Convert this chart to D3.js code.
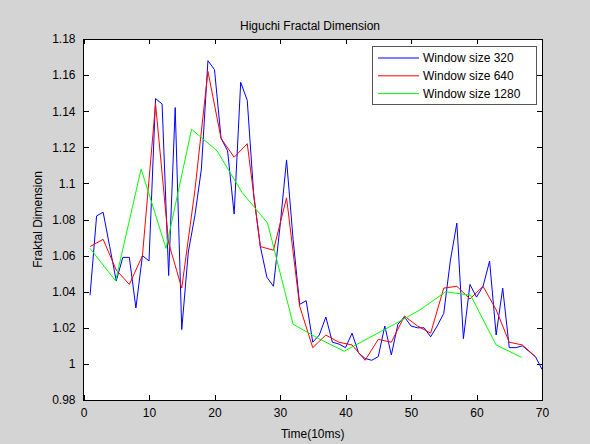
<!DOCTYPE html>
<html>
<head>
<meta charset="utf-8">
<script src="https://cdn.jsdelivr.net/npm/d3@7"></script>
<style>
  html, body { margin: 0; padding: 0; background: #d4d4d4; }
  svg { display: block; font-family: "Liberation Sans", Arial, sans-serif; }
</style>
</head>
<body>
<svg id="chart" width="590" height="444"></svg>
<script>
// series values
const blueX = d3.range(1, 71);
const blueY = [1.038, 1.082, 1.084, 1.065, 1.046, 1.059, 1.059, 1.031, 1.060, 1.057,
  1.147, 1.144, 1.049, 1.142, 1.019, 1.062, 1.082, 1.108, 1.168, 1.163,
  1.125, 1.118, 1.083, 1.156, 1.146, 1.093, 1.065, 1.048, 1.043, 1.076,
  1.113, 1.069, 1.033, 1.035, 1.012, 1.016, 1.026, 1.012, 1.011, 1.009,
  1.017, 1.006, 1.003, 1.002, 1.004, 1.021, 1.005, 1.022, 1.026, 1.021,
  1.020, 1.020, 1.015, 1.021, 1.028, 1.057, 1.078, 1.014, 1.044, 1.037,
  1.043, 1.057, 1.016, 1.042, 1.009, 1.009, 1.010, 1.007, 1.004, 0.997];

const redX = [1, 3, 5, 7, 9, 11, 13, 15, 17, 19, 21, 23, 25, 27, 29, 31, 33, 35,
  37, 39, 41, 43, 45, 47, 49, 51, 53, 55, 57, 59, 61, 63, 65, 67, 69];
const redY = [1.065, 1.069, 1.052, 1.044, 1.060, 1.144, 1.067, 1.042, 1.096, 1.162,
  1.125, 1.1145, 1.122, 1.065, 1.063, 1.092, 1.032, 1.009, 1.016, 1.012,
  1.0105, 1.002, 1.0136, 1.012, 1.0265, 1.021, 1.017, 1.042, 1.043, 1.036,
  1.043, 1.030, 1.012, 1.0105, 1.004];

const greenX = [1, 4.9, 8.8, 12.6, 16.5, 20.4, 24.2, 28.1, 32, 35.9, 39.8, 43.6,
  47.5, 51.4, 55.3, 59.1, 63, 66.9];
const greenY = [1.064, 1.046, 1.108, 1.064, 1.130, 1.118, 1.095, 1.078, 1.022, 1.014,
  1.007, 1.0145, 1.022, 1.030, 1.040, 1.038, 1.0105, 1.0036];

const seriesNames = ['Window size 320', 'Window size 640', 'Window size 1280'];
const seriesColors = ['#0000ff', '#ff0000', '#00ff00'];

const xTicks = [0, 10, 20, 30, 40, 50, 60, 70];
const yTicks = [0.98, 1, 1.02, 1.04, 1.06, 1.08, 1.1, 1.12, 1.14, 1.16, 1.18];

const svg = d3.select('#chart');
const axL = 83.5, axR = 542, axT = 39, axB = 400;

const x = d3.scaleLinear().domain([0, 70]).range([axL, axR]);
const y = d3.scaleLinear().domain([0.98, 1.18]).range([axB, axT]);

// axes background
svg.append('rect')
  .attr('x', axL).attr('y', axT)
  .attr('width', axR - axL).attr('height', axB - axT)
  .attr('fill', '#fff');

const fmt = d => String(+d.toFixed(2));

// ticks pointing inward, on all four sides
const tickLen = 5;
svg.append('g').attr('transform', `translate(0,${axB})`)
  .call(d3.axisBottom(x).tickValues(xTicks).tickSize(-tickLen).tickPadding(8).tickFormat(fmt));
svg.append('g').attr('transform', `translate(0,${axT})`)
  .call(d3.axisTop(x).tickValues(xTicks).tickSize(-tickLen).tickFormat(''));
svg.append('g').attr('transform', `translate(${axL},0)`)
  .call(d3.axisLeft(y).tickValues(yTicks).tickSize(-tickLen).tickPadding(8).tickFormat(fmt));
svg.append('g').attr('transform', `translate(${axR},0)`)
  .call(d3.axisRight(y).tickValues(yTicks).tickSize(-tickLen).tickFormat(''));

svg.selectAll('.domain').remove();
svg.selectAll('.tick line').attr('stroke', '#000').attr('shape-rendering', 'crispEdges');
svg.selectAll('.tick text').attr('fill', '#000').style('font-size', '12px')
  .style('font-family', '"Liberation Sans", Arial, sans-serif');

// lines
const series = [
  blueX.map((v, i) => [v, blueY[i]]),
  redX.map((v, i) => [v, redY[i]]),
  greenX.map((v, i) => [v, greenY[i]])
];
const line = d3.line().x(d => x(d[0])).y(d => y(d[1]));
const plot = svg.append('g');
series.forEach((s, i) => {
  plot.append('path')
    .datum(s)
    .attr('fill', 'none')
    .attr('stroke', seriesColors[i])
    .attr('stroke-width', 1)
    .attr('d', line);
});

// axes box
svg.append('rect')
  .attr('x', axL).attr('y', axT)
  .attr('width', axR - axL).attr('height', axB - axT)
  .attr('fill', 'none').attr('stroke', '#000')
  .attr('shape-rendering', 'crispEdges');

// title and labels
svg.append('text')
  .attr('x', 310).attr('y', 29.5)
  .attr('text-anchor', 'middle').style('font-size', '12px')
  .text('Higuchi Fractal Dimension');
svg.append('text')
  .attr('x', (axL + axR) / 2).attr('y', 438)
  .attr('text-anchor', 'middle').style('font-size', '12px')
  .text('Time(10ms)');
svg.append('text')
  .attr('transform', `translate(42,${(axT + axB) / 2}) rotate(-90)`)
  .attr('text-anchor', 'middle').style('font-size', '12px')
  .text('Fraktal Dimension');

// legend
const lg = svg.append('g').attr('transform', 'translate(372,46)');
lg.append('rect')
  .attr('width', 164).attr('height', 58)
  .attr('fill', '#fff').attr('stroke', '#555')
  .attr('shape-rendering', 'crispEdges');
seriesNames.forEach((name, i) => {
  const ry = 12 + i * 17.8;
  lg.append('line')
    .attr('x1', 6).attr('x2', 47).attr('y1', ry).attr('y2', ry)
    .attr('stroke', seriesColors[i]).attr('stroke-width', 1);
  lg.append('text')
    .attr('x', 51).attr('y', ry + 4)
    .style('font-size', '12px')
    .text(name);
});
</script>
</body>
</html>
